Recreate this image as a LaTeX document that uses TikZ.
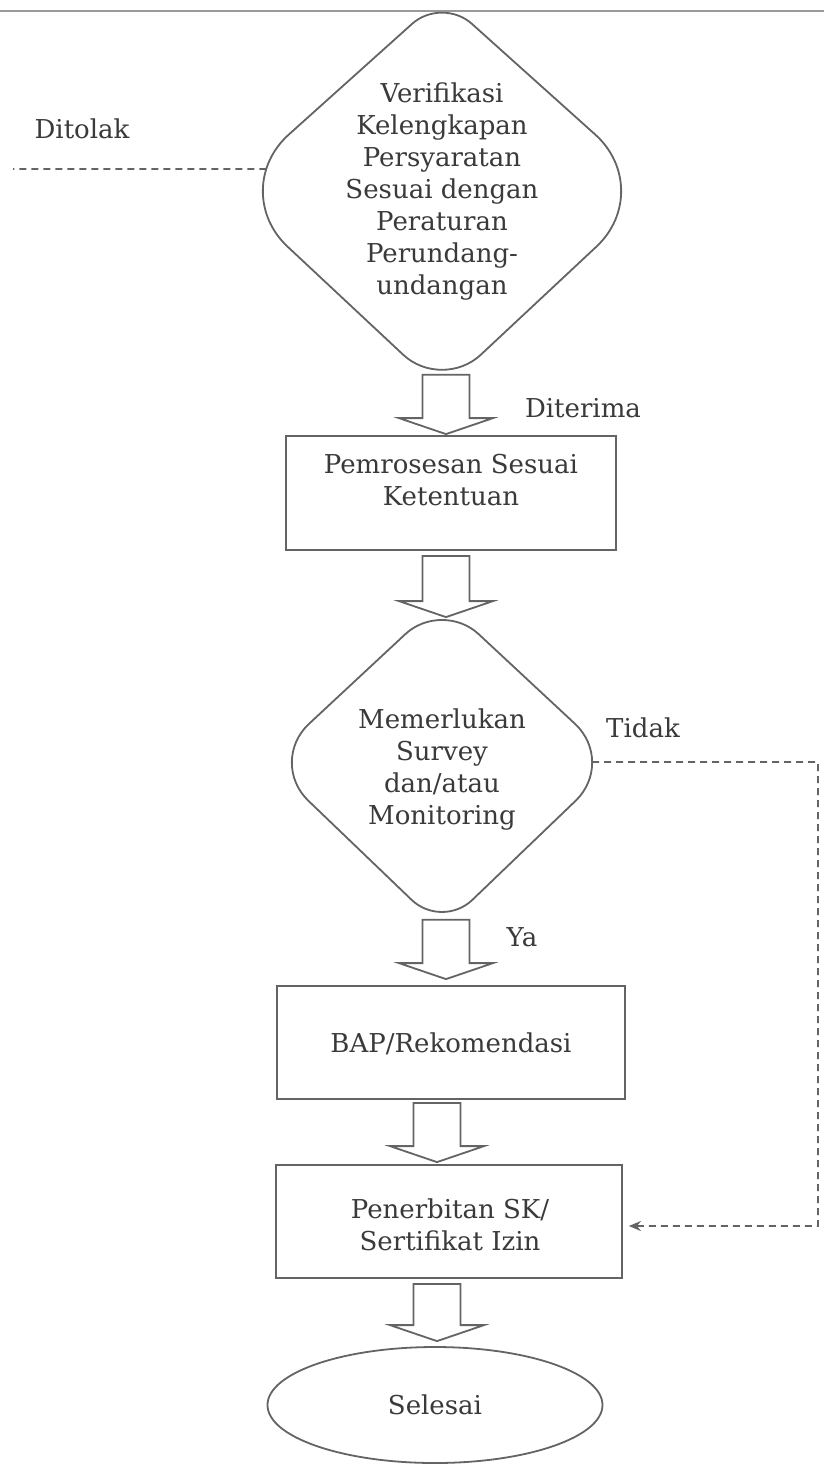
\documentclass[tikz,border=0pt]{standalone}
\usepackage{fontspec}
\setmainfont{DejaVu Serif}
\usetikzlibrary{shapes.geometric,arrows.meta,calc,intersections}
\definecolor{ln}{HTML}{646464}
\definecolor{tx}{HTML}{3A3A3A}
\definecolor{topln}{HTML}{9A9A9A}
\newcommand\blkarr[3]{%
  \draw[blk] let \p1=(#1 |- #2), \p2=(#1 |- #3) in
    (\x1-11.75pt,\y1) -- (\x1-11.75pt,\y2+8pt) -- (\x1-23.5pt,\y2+8pt) -- (\x1,\y2)
    -- (\x1+23.5pt,\y2+8pt) -- (\x1+11.75pt,\y2+8pt) -- (\x1+11.75pt,\y1) -- cycle;}
% rounded diamond: #1 path name, #2..#5 sharp corners T R B L, #6..#9 tangent lengths
\newcommand\rdiamond[9]{%
  \draw[shp,name path=#1]
   ($(#2)!#6!(#5)$) .. controls ($(#2)!{0.4477*#6}!(#5)$) and ($(#2)!{0.4477*#6}!(#3)$) .. ($(#2)!#6!(#3)$)
   -- ($(#3)!#7!(#2)$) .. controls ($(#3)!{0.4477*#7}!(#2)$) and ($(#3)!{0.4477*#7}!(#4)$) .. ($(#3)!#7!(#4)$)
   -- ($(#4)!#8!(#3)$) .. controls ($(#4)!{0.4477*#8}!(#3)$) and ($(#4)!{0.4477*#8}!(#5)$) .. ($(#4)!#8!(#5)$)
   -- ($(#5)!#9!(#4)$) .. controls ($(#5)!{0.4477*#9}!(#4)$) and ($(#5)!{0.4477*#9}!(#2)$) .. ($(#5)!#9!(#2)$)
   -- cycle;}
\begin{document}
\begin{tikzpicture}[x=0.5pt,y=-0.5pt,
  shp/.style={draw=ln,line width=0.9pt},
  txt/.style={text=tx,font=\fontsize{13}{16}\selectfont,align=center,inner sep=0pt},
  lbl/.style={text=tx,font=\fontsize{13}{16}\selectfont,inner sep=0pt},
  boxn/.style={shp,rectangle,inner sep=0pt},
  blk/.style={draw=ln,line width=0.9pt,fill=white,line join=miter},
  dsh/.style={draw=ln,line width=0.9pt,dash pattern=on 3.5pt off 2.5pt}]
\useasboundingbox (0,0) rectangle (824,1464);
\fill[white] (0,0) rectangle (824,1464);
% top rule
\coordinate (pl) at (0,11); \coordinate (pr) at (824,11);
\draw[draw=topln,line width=1.4pt] (pl) -- (pr);

% axes for block arrows
\coordinate (xA) at (446,0);
\coordinate (xB) at (437,0);

% ---- decision 1
\coordinate (aT) at (442,-3); \coordinate (aR) at (657,190);
\coordinate (aB) at (442,391); \coordinate (aL) at (227,190);
\rdiamond{dA}{aT}{aR}{aB}{aL}{20pt}{41.5pt}{26.5pt}{41.5pt}
\node[txt] (dAt) at (442,191) {Verifikasi\\Kelengkapan\\Persyaratan\\Sesuai dengan\\Peraturan\\Perundang-\\undangan};
\path[name path=hA] (0,169) -- (442,169);
\path[name intersections={of=dA and hA, by={dAW}}];
\path[name path=vA] (446,250) -- (446,420);
\path[name intersections={of=dA and vA, by={dAS}}];

% ---- box 1
\node[boxn,minimum width=165pt,minimum height=57pt] (b1) at (451,493) {};
\node[txt] (b1t) at (451,480) {Pemrosesan Sesuai\\Ketentuan};

% ---- decision 2
\coordinate (cT) at (442,600); \coordinate (cR) at (616,762);
\coordinate (cB) at (442,929); \coordinate (cL) at (268,762);
\rdiamond{dC}{cT}{cR}{cB}{cL}{25pt}{28pt}{21pt}{28pt}
\node[txt] (dCt) at (442,769) {Memerlukan\\Survey\\dan/atau\\Monitoring};
\path[name path=hC] (442,762) -- (700,762);
\path[name intersections={of=dC and hC, by={dCE}}];
\path[name path=vCn] (446,560) -- (446,700);
\path[name intersections={of=dC and vCn, by={dCN}}];
\path[name path=vCs] (446,800) -- (446,960);
\path[name intersections={of=dC and vCs, by={dCS}}];

% ---- box 2, box 3, end
\node[boxn,minimum width=174pt,minimum height=56.5pt] (b2) at (451,1042.5) {};
\node[txt] (b2t) at (451,1044) {BAP/Rekomendasi};
\node[boxn,minimum width=173pt,minimum height=56.5pt] (b3) at (449,1221.5) {};
\node[txt] (b3t) at (450,1225) {Penerbitan SK/\\Sertifikat Izin};
\node[shp,ellipse,inner sep=0pt,minimum width=167.5pt,minimum height=58pt,text=tx,
      font=\fontsize{13}{16}\selectfont] (e1) at (435,1405) {Selesai};

% ---- block arrows
\coordinate (a1s) at ($(dAS)+(0,5)$);  \coordinate (a1e) at ($(b1.north)+(0,-1)$);
\coordinate (a2s) at ($(b1.south)+(0,5)$); \coordinate (a2e) at ($(dCN)+(0,-3)$);
\coordinate (a3s) at ($(dCS)+(0,8)$);  \coordinate (a3e) at ($(b2.north)+(0,-6)$);
\coordinate (a4s) at ($(b2.south)+(0,3)$); \coordinate (a4e) at ($(b3.north)+(0,-2)$);
\coordinate (a5s) at ($(b3.south)+(0,5)$); \coordinate (a5e) at ($(e1.north)+(0,-5)$);
\blkarr{xA}{a1s}{a1e}
\blkarr{xA}{a2s}{a2e}
\blkarr{xA}{a3s}{a3e}
\blkarr{xB}{a4s}{a4e}
\blkarr{xB}{a5s}{a5e}

% ---- dashed connectors
\coordinate (dEnd) at (13,169);
\draw[dsh] (dAW) -- (dEnd);
\coordinate (tk1) at (818,762);
\coordinate (tk2) at (818,1226);
\coordinate (tk3) at ($(b3.east |- tk2)+(6,0)$);
\draw[dsh,-{Stealth[length=6pt,width=5pt]}] (dCE) -- (tk1) -- (tk2) -- (tk3);

% ---- labels
\node[lbl] (lDitolak) at (82,129) {Ditolak};
\node[lbl] (lDiterima) at (583,408) {Diterima};
\node[lbl] (lTidak) at (643,728) {Tidak};
\node[lbl] (lYa) at (522,937) {Ya};
\end{tikzpicture}
\end{document}
